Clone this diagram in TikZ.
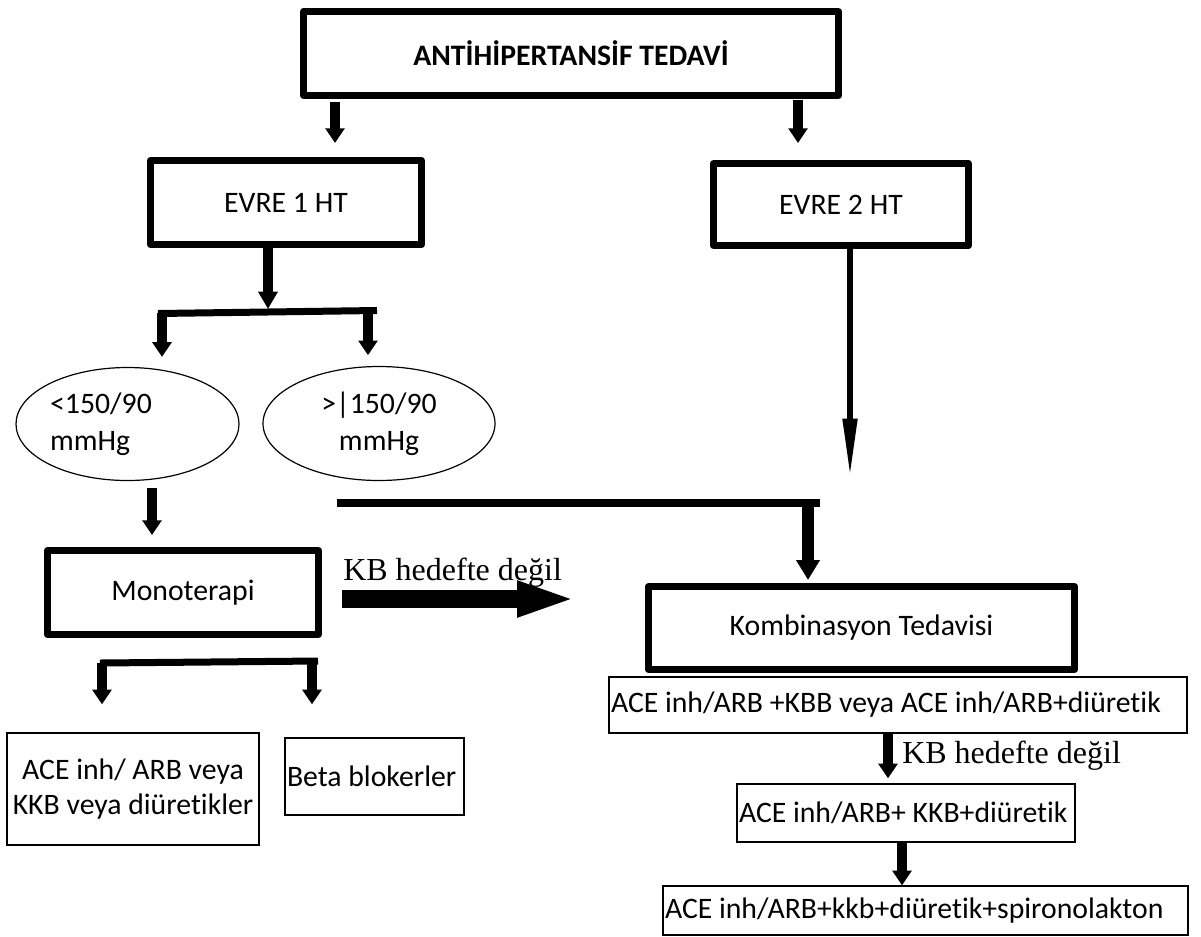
\documentclass[tikz,border=0pt]{standalone}
\usepackage{fontspec}
\setmainfont{Carlito}[Ligatures={NoCommon}]
\newfontfamily\etiketfont{Liberation Serif}
\usetikzlibrary{shapes.geometric,arrows.meta}

\tikzset{
  kutu/.style={draw, line width=5.25pt, line join=round, align=center, inner sep=0pt,
    font=\fontsize{22.3}{27}\selectfont},
  ilac/.style={draw, line width=1pt, align=flush left, inner xsep=1.5pt, inner ysep=0pt,
    font=\fontsize{22.3}{27}\selectfont},
  oval/.style={draw, ellipse, line width=0.9pt, inner sep=0pt,
    font=\fontsize{22.3}{27.75}\selectfont},
  okk/.style={line width=7.5pt, -{Triangle[width=14pt,length=11pt]}},
  blokok/.style={line width=13.5pt, -{Triangle[width=24pt,length=45pt]}},
  cubuk/.style={line width=5.25pt},
  etiket/.style={font=\etiketfont\fontsize{24}{28}\selectfont, inner sep=0pt, anchor=base west}
}

\begin{document}
\begin{tikzpicture}[x=0.75pt,y=0.75pt,yscale=-1,xscale=1]
\useasboundingbox (0,0) rectangle (1201,936);

% Kutular
\node[kutu, minimum width=401.25pt, minimum height=63pt, font=\bfseries\fontsize{22.3}{27}\selectfont] (tedavi) at (571,53.5) {ANTİHİPERTANSİF TEDAVİ};
\node[kutu, minimum width=203.25pt, minimum height=63pt] (evrebir) at (286,202.5) {EVRE 1 HT};
\node[kutu, minimum width=191.25pt, minimum height=61.5pt] (evreiki) at (841,204.5) {EVRE 2 HT};
\node[oval, minimum width=167.25pt, minimum height=84.75pt, text width=116pt, align=flush left] (dusuk) at (127.5,424) {<150/90\\mmHg};
\node[oval, minimum width=174pt, minimum height=85.5pt, align=center] (yuksek) at (379,423.5) {>|150/90\\mmHg};
\node[kutu, minimum width=203.25pt, minimum height=63pt] (mono) at (183,592.5) {Monoterapi};
\node[kutu, minimum width=319.5pt, minimum height=62.25pt] (kombi) at (861.5,628) {Kombinasyon Tedavisi};
\node[ilac, minimum width=189pt, minimum height=84pt, align=center, font=\fontsize{22.3}{26.25}\selectfont] (acetek) at (133,789) {ACE inh/ ARB veya\\KKB veya diüretikler};
\node[ilac, minimum height=57.75pt, text width=131.25pt] (beta) at (374.5,776.5) {Beta blokerler};
\node[ilac, minimum height=42pt, text width=430.5pt] (ikili) at (898,705) {ACE inh/ARB +KBB veya ACE inh/ARB+diüretik};
\node[ilac, minimum height=43.5pt, text width=250.5pt] (uclu) at (906,813) {ACE inh/ARB+ KKB+diüretik};
\node[ilac, minimum height=36.75pt, text width=390.75pt] (dortlu) at (925.5,910.5) {ACE inh/ARB+kkb+diüretik+spironolakton};

% Etiketler
\node[etiket] (not1) at (343,580) {KB hedefte değil};
\node[etiket] (not2) at (902,763) {KB hedefte değil};

% Ara noktalar
\coordinate (catal1) at (268,309);
\coordinate (bar1sol) at (158,313.5);
\coordinate (bar1sag) at (377,310.5);
\coordinate (bar2sol) at (100,663);
\coordinate (bar2sag) at (318,661);
\coordinate (kol1) at (337,503);
\coordinate (kol2) at (820,503);
\coordinate (ikiuc) at (850,480);

% Oklar
\draw[okk, shorten <=2.25pt, shorten >=10.5pt] (tedavi.south -| 335,0) -- (evrebir.north -| 335,0);
\draw[okk, shorten <=0.75pt, shorten >=12.75pt] (tedavi.south -| 798,0) -- (evreiki.north -| 798,0);
\draw[okk, -{Triangle[width=14pt,length=13pt]}] (evrebir.south -| catal1) -- (catal1);
\draw[cubuk] (bar1sol) -- (bar1sag);
\draw[okk, shorten >=7.5pt] (162,313) -- (dusuk.north -| 162,0);
\draw[okk, shorten >=8pt] (368,310.5) -- (yuksek.north -| 368,0);
\draw[line width=5pt, -{Triangle[width=10pt,length=46pt]}] (evreiki.south -| ikiuc) -- (ikiuc);
\draw[okk, shorten <=5pt, shorten >=9pt] (dusuk.south -| 152,0) -- (mono.north -| 152,0);
\draw[line width=6pt] (kol1) -- (kol2);
\draw[line width=9pt, -{Triangle[width=17pt,length=15pt]}, shorten >=2.25pt] (808,500) -- (kombi.north -| 808,0);
\draw[blokok, shorten <=15pt, shorten >=51pt] (mono.east |- 0,599) -- (kombi.west |- 0,599);
\draw[cubuk] (bar2sol) -- (bar2sag);
\draw[okk, shorten >=21pt] (102,663) -- (acetek.north -| 102,0);
\draw[okk, shorten >=24.75pt] (312,661) -- (beta.north -| 312,0);
\draw[okk, shorten >=3.75pt] (ikili.south -| 888,0) -- (uclu.north -| 888,0);
\draw[okk] (uclu.south -| 902,0) -- (dortlu.north -| 902,0);

\end{tikzpicture}
\end{document}
